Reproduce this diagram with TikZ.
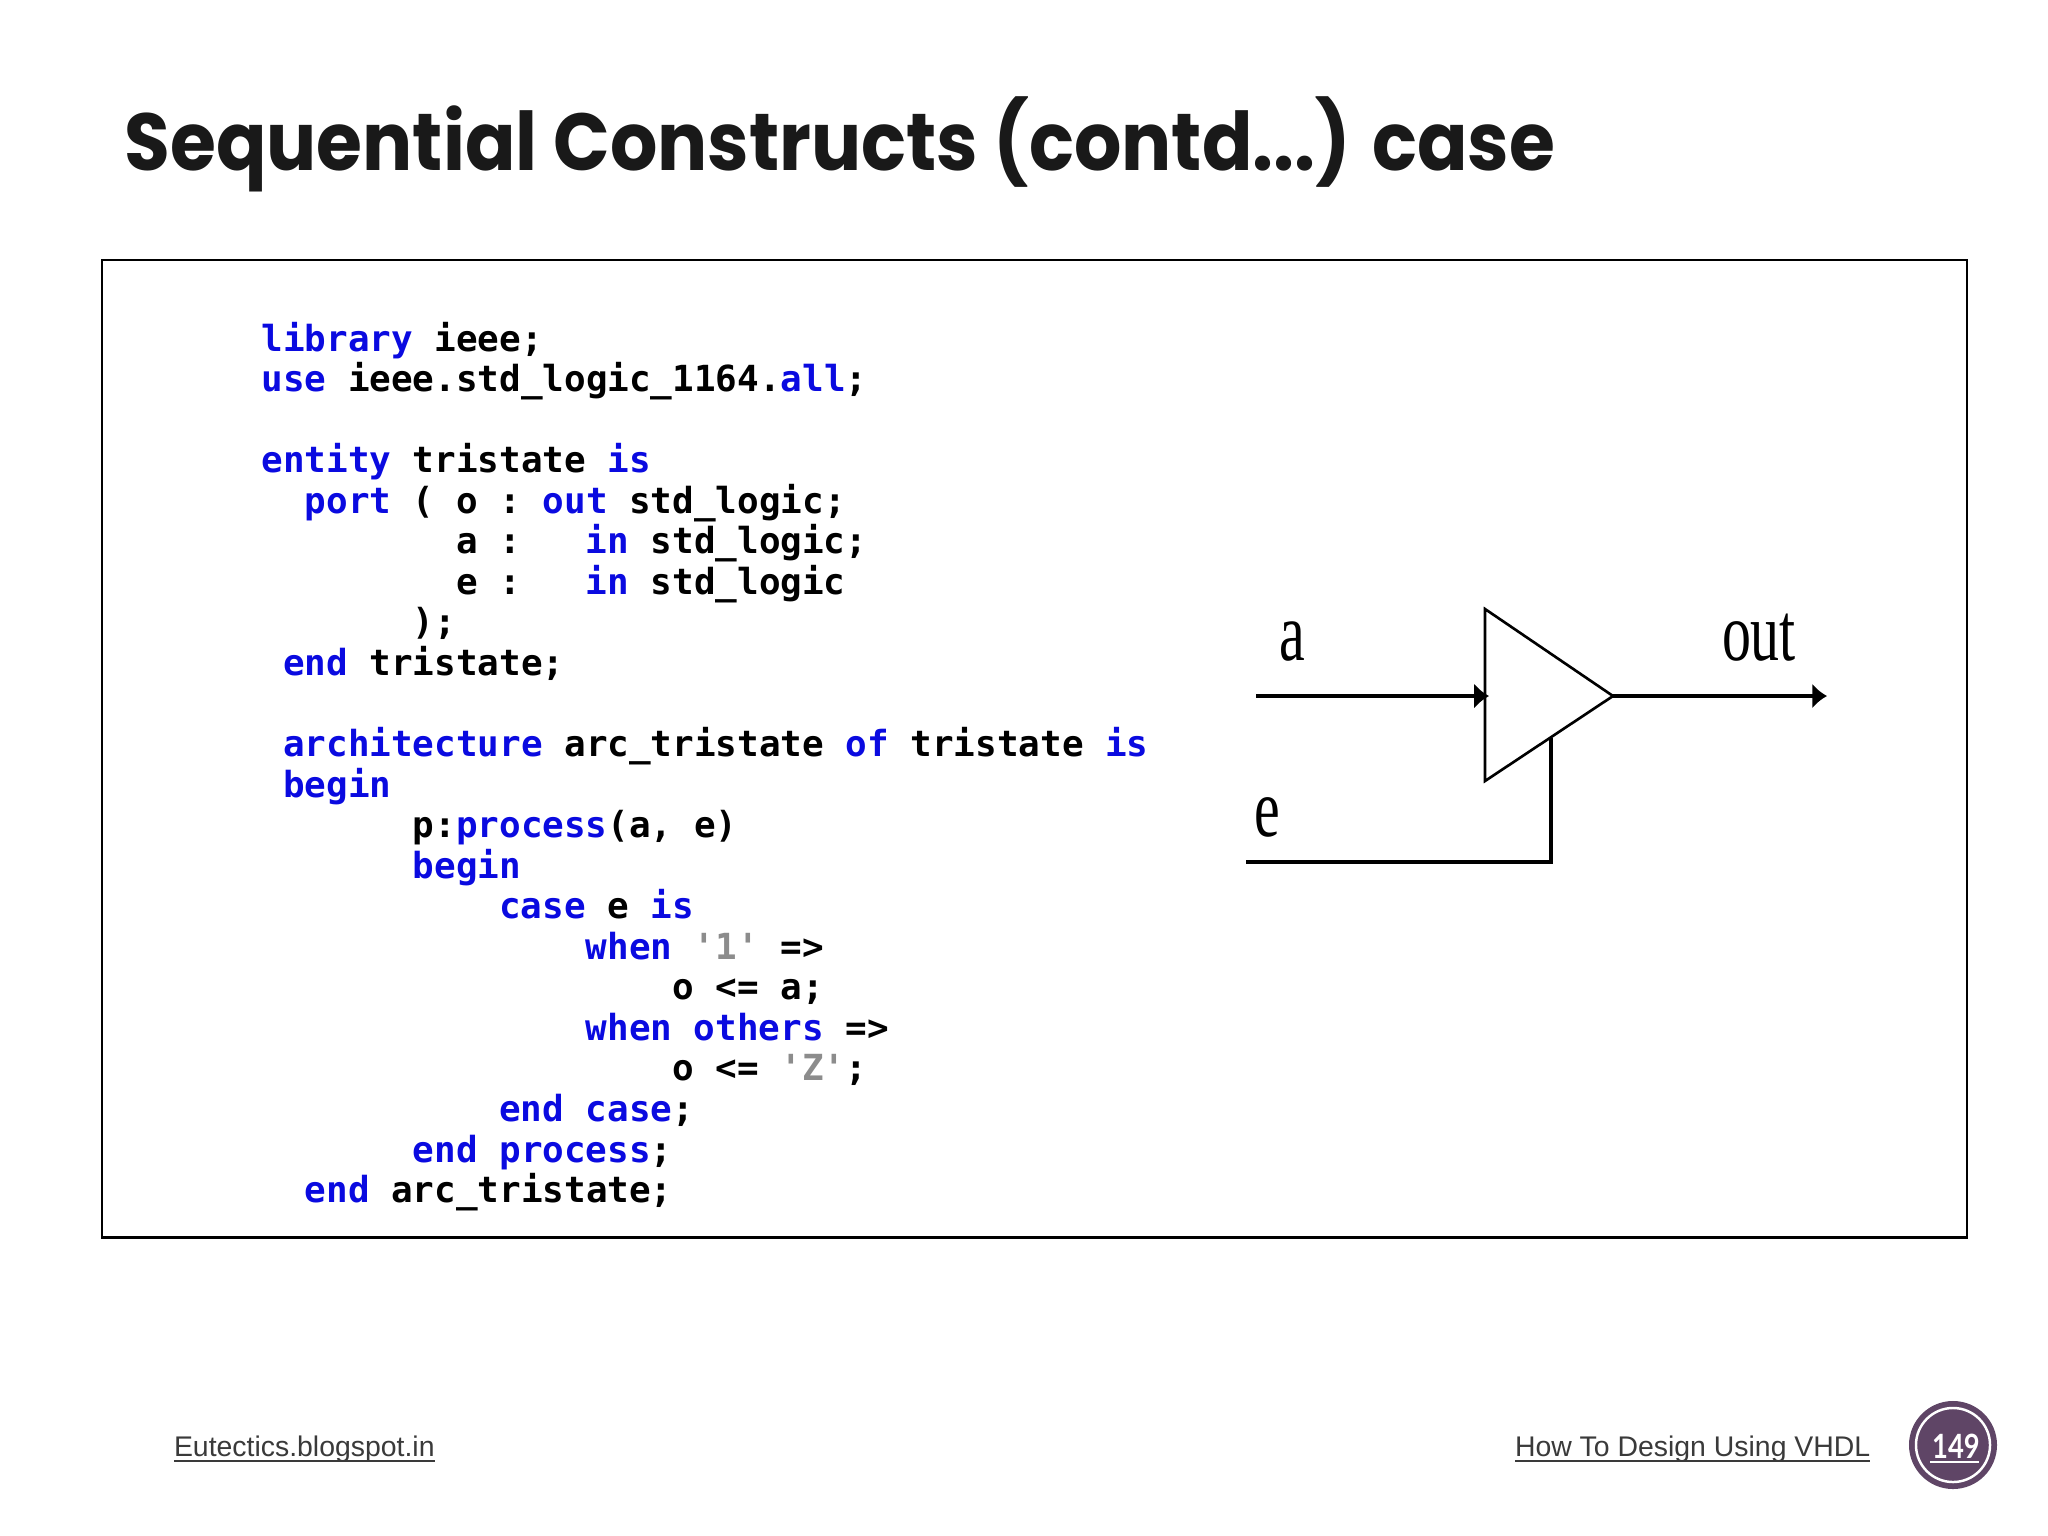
\documentclass[tikz,border=0pt]{standalone}
\usepackage{fontspec}
\usetikzlibrary{arrows.meta,calc}
\setmainfont{Liberation Sans}
\newfontfamily\codefont{DejaVu Sans Mono}
\newfontfamily\titlefont{Poppins}
\newfontfamily\badgefont{Lato}
\newfontfamily\serifont{Liberation Serif}
\definecolor{kwblue}{HTML}{0A0AE0}
\definecolor{litgray}{HTML}{8C8C8C}
\definecolor{footgray}{HTML}{3A3A3A}
\definecolor{badgepurple}{HTML}{5F4566}
\newcommand{\kw}[1]{\textcolor{kwblue}{#1}}
\newcommand{\lit}[1]{\textcolor{litgray}{#1}}
\newcommand{\codeat}[4]{\node[codeline] (#1) at ({261.5+21.62*#2},{-351-40.55*#3}) {#4};}
\tikzset{
  x=0.01cm,y=0.01cm,
  codeline/.style={anchor=base west,inner sep=0pt,outer sep=0pt,text=black,font=\codefont\bfseries\fontsize{10.22}{12}\selectfont\frenchspacing},
  wire/.style={draw=black,line width=1pt},
  gate/.style={draw=black,line width=0.75pt,line join=miter},
  tipwire/.style={wire,-{Latex[length=4.2pt,width=7.2pt]}},
  siglabel/.style={inner sep=0pt,outer sep=0pt,anchor=base,font=\serifont\fontsize{23.5}{26}\selectfont,xscale=.7},
  foot/.style={inner sep=0pt,outer sep=0pt,anchor=base west,text=footgray,font=\fontsize{8.08}{10}\selectfont},
  footline/.style={draw=footgray,line width=0.55pt},
}
\begin{document}
\begin{tikzpicture}
\useasboundingbox (0,0) rectangle (2048,-1536);
\node[inner sep=0pt,anchor=base west,font=\titlefont\bfseries\fontsize{23}{27}\selectfont,text=black!90,xscale=.92] (title) at (124,-170) {Sequential Constructs (contd...) case};
\node[draw=black,line width=0.75pt,minimum width=18.64cm,minimum height=9.77cm,inner sep=0pt,outer sep=0pt,anchor=north west] (frame) at (102,-260) {};
\codeat{l0}{0}{0}{\kw{library} ieee;}
\codeat{l1}{0}{1}{\kw{use} ieee.std\_logic\_1164.\kw{all};}
\codeat{l3}{0}{3}{\kw{entity} tristate \kw{is}}
\codeat{l4}{2}{4}{\kw{port} ( o : \kw{out} std\_logic;}
\codeat{l5}{9}{5}{a :~~~\kw{in} std\_logic;}
\codeat{l6}{9}{6}{e :~~~\kw{in} std\_logic}
\codeat{l7}{7}{7}{);}
\codeat{l8}{1}{8}{\kw{end} tristate;}
\codeat{l10}{1}{10}{\kw{architecture} arc\_tristate \kw{of} tristate \kw{is}}
\codeat{l11}{1}{11}{\kw{begin}}
\codeat{l12}{7}{12}{p:\kw{process}(a, e)}
\codeat{l13}{7}{13}{\kw{begin}}
\codeat{l14}{11}{14}{\kw{case} e \kw{is}}
\codeat{l15}{15}{15}{\kw{when} \lit{'1'} =>}
\codeat{l16}{19}{16}{o <= a;}
\codeat{l17}{15}{17}{\kw{when} \kw{others} =>}
\codeat{l18}{19}{18}{o <= \lit{'Z'};}
\codeat{l19}{11}{19}{\kw{end} \kw{case};}
\codeat{l20}{7}{20}{\kw{end} \kw{process};}
\codeat{l21}{2}{21}{\kw{end} arc\_tristate;}
% tristate buffer
\coordinate (gtop) at (1485,-609);
\coordinate (gbot) at (1485,-781);
\coordinate (gout) at (1613,-696);
\coordinate (ain) at (1256,-696);
\coordinate (ainend) at (1489,-696);
\coordinate (outend) at (1827,-696);
\coordinate (ein) at (1246,-862);
\coordinate (ecorner) at (1551,-862);
\coordinate (egate) at (1551,-738);
\draw[gate] (gtop) -- (gout) -- (gbot) -- cycle;
\draw[tipwire] (ain) -- (ainend);
\draw[tipwire] (gout) -- (outend);
\draw[wire] (ein) -- (ecorner) -- (egate);
\node[siglabel] (siga) at (1292,-660) {a};
\node[siglabel] (sigout) at (1759,-660) {out};
\node[siglabel] (sige) at (1267,-836) {e};
% footer
\node[foot] (footl) at (174,-1456) {Eutectics.blogspot.in};
\node[foot] (footr) at (1515,-1456) {How To Design Using VHDL};
\draw[footline] ($(footl.base west)+(0,-5)$) -- ($(footl.base east)+(0,-5)$);
\draw[footline] ($(footr.base west)+(0,-5)$) -- ($(footr.base east)+(0,-5)$);
% badge
\node[circle,fill=badgepurple,minimum size=0.88cm,inner sep=0pt] (badge) at (1953,-1445) {};
\node[circle,draw=white,line width=0.7pt,minimum size=0.74cm,inner sep=0pt] (badgering) at (1953,-1445) {};
\node[inner sep=0pt,anchor=base,text=white,font=\badgefont\bfseries\fontsize{9.5}{11}\selectfont,xscale=.82] (badgenum) at (1956,-1458) {149};
\coordinate (ul) at (1930,-1462);
\coordinate (ur) at (1979,-1462);
\draw[white,line width=0.6pt] (ul) -- (ur);
\end{tikzpicture}
\end{document}
